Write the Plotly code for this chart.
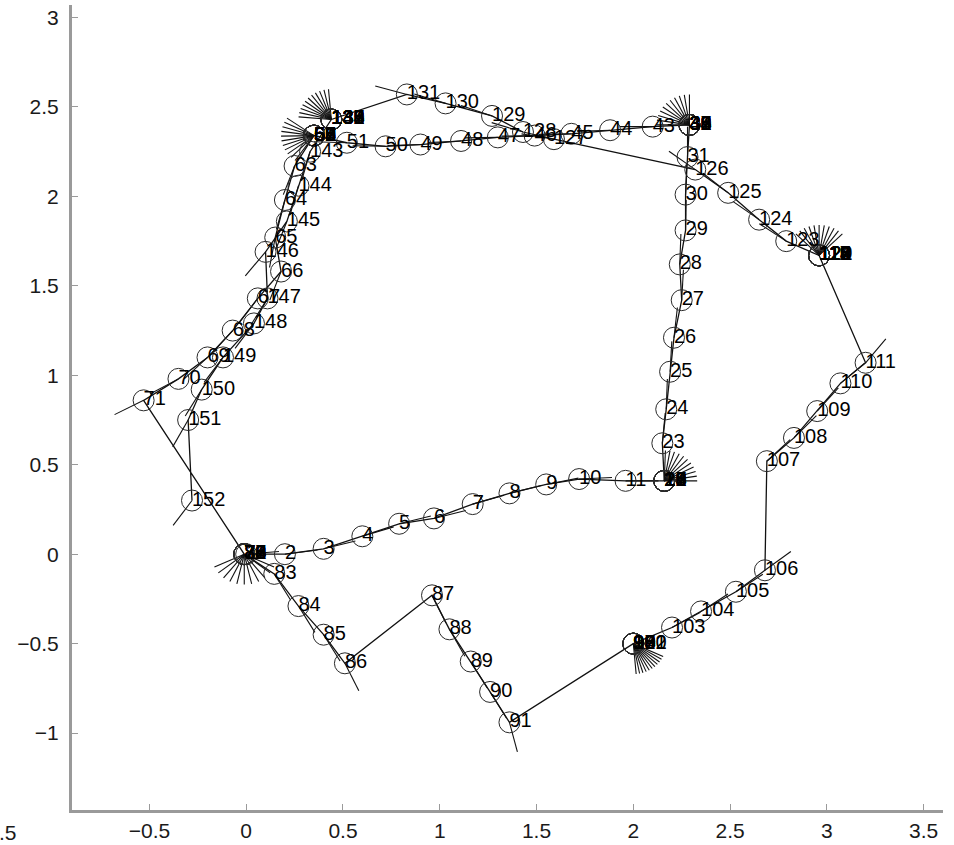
import math
import plotly.graph_objects as go

# ---- data: pose index, position (x, y) and heading (degrees) ----
pose_id = list(range(1, 153))

pose_x = [
    0.00, 0.20, 0.40, 0.60, 0.79, 0.97, 1.17, 1.36, 1.55, 1.72, 1.96,           # 1-11
    2.16, 2.16, 2.16, 2.16, 2.16, 2.16, 2.16, 2.16, 2.16, 2.16, 2.16,           # 12-22
    2.15, 2.17, 2.19, 2.21, 2.25, 2.24, 2.27, 2.27, 2.28,                       # 23-31
    2.29, 2.29, 2.29, 2.29, 2.29, 2.29, 2.29, 2.29, 2.29, 2.29, 2.29,           # 32-42
    2.10, 1.88, 1.68, 1.49, 1.30, 1.11, 0.90, 0.72, 0.52,                       # 43-51
    0.35, 0.35, 0.35, 0.35, 0.35, 0.35, 0.35, 0.35, 0.35, 0.35, 0.35,           # 52-62
    0.25, 0.20, 0.15, 0.18, 0.06, -0.07, -0.20, -0.35, -0.53,                   # 63-71
    -0.01, -0.01, -0.01, -0.01, -0.01, -0.01, -0.01, -0.01, -0.01, -0.01, -0.01,  # 72-82
    0.145, 0.27, 0.40, 0.51, 0.96, 1.05, 1.16, 1.26, 1.36,                      # 83-91
    2.00, 2.00, 2.00, 2.00, 2.00, 2.00, 2.00, 2.00, 2.00, 2.00, 2.00,           # 92-102
    2.20, 2.35, 2.53, 2.68, 2.69, 2.83, 2.95, 3.07, 3.20,                       # 103-111
    2.96, 2.96, 2.96, 2.96, 2.96, 2.96, 2.96, 2.96, 2.96, 2.96, 2.96,           # 112-122
    2.79, 2.65, 2.49, 2.32, 1.59, 1.43, 1.27, 1.03, 0.83,                       # 123-131
    0.44, 0.44, 0.44, 0.44, 0.44, 0.44, 0.44, 0.44, 0.44, 0.44, 0.44,           # 132-142
    0.33, 0.27, 0.21, 0.10, 0.11, 0.04, -0.12, -0.23, -0.30, -0.28,             # 143-152
]

pose_y = [
    0.00, 0.00, 0.03, 0.10, 0.17, 0.20, 0.28, 0.34, 0.39, 0.42, 0.41,
    0.41, 0.41, 0.41, 0.41, 0.41, 0.41, 0.41, 0.41, 0.41, 0.41, 0.41,
    0.62, 0.81, 1.02, 1.21, 1.42, 1.62, 1.81, 2.01, 2.22,
    2.40, 2.40, 2.40, 2.40, 2.40, 2.40, 2.40, 2.40, 2.40, 2.40, 2.40,
    2.39, 2.37, 2.35, 2.34, 2.33, 2.31, 2.29, 2.28, 2.30,
    2.34, 2.34, 2.34, 2.34, 2.34, 2.34, 2.34, 2.34, 2.34, 2.34, 2.34,
    2.17, 1.98, 1.77, 1.58, 1.43, 1.25, 1.10, 0.98, 0.86,
    0.00, 0.00, 0.00, 0.00, 0.00, 0.00, 0.00, 0.00, 0.00, 0.00, 0.00,
    -0.11, -0.29, -0.45, -0.61, -0.23, -0.42, -0.60, -0.77, -0.94,
    -0.50, -0.50, -0.50, -0.50, -0.50, -0.50, -0.50, -0.50, -0.50, -0.50, -0.50,
    -0.41, -0.32, -0.21, -0.09, 0.52, 0.65, 0.80, 0.955, 1.07,
    1.67, 1.67, 1.67, 1.67, 1.67, 1.67, 1.67, 1.67, 1.67, 1.67, 1.67,
    1.75, 1.87, 2.02, 2.15, 2.32, 2.36, 2.45, 2.52, 2.57,
    2.43, 2.43, 2.43, 2.43, 2.43, 2.43, 2.43, 2.43, 2.43, 2.43, 2.43,
    2.25, 2.06, 1.86, 1.69, 1.43, 1.29, 1.10, 0.92, 0.75, 0.30,
]

pose_theta = [
    5, 8, 15, 18, 15, 15, 17, 15, 12, 3, 0,
    0, 9, 18, 27, 36, 45, 54, 63, 72, 80, 88,
    85, 88, 87, 84, 87, 88, 89, 88, 90,
    90, 99, 108, 117, 126, 135, 144, 153, 162, 171, 180,
    180, 182, 181, 181, 181, 183, 182, 179, 178,
    145, 154, 163, 172, 181, 190, 199, 208, 217, 226, 235,
    250, 255, 260, 250, 235, 230, 225, 210, 208,
    205, 218, 231, 244, 257, 270, 283, 296, 309, 322, 335,
    300, 300, 300, 295, 295, 298, 300, 300, 284,
    275, 281, 287, 293, 299, 305, 311, 317, 323, 329, 335,
    30, 35, 35, 38, 45, 47, 50, 42, 52,
    45, 54, 63, 72, 81, 90, 99, 108, 117, 126, 135,
    145, 143, 140, 143, 170, 162, 160, 162, 164,
    95, 103, 111, 119, 127, 135, 143, 151, 159, 167, 175,
    255, 255, 250, 232, 240, 235, 235, 240, 242, 235,
]

x_ticks = [-0.5, 0, 0.5, 1, 1.5, 2, 2.5, 3, 3.5]
y_ticks = [-1, -0.5, 0, 0.5, 1, 1.5, 2, 2.5, 3]

# ---- style ----
HEAD_LEN = 0.17
FONT = "Liberation Sans, Arial, Helvetica, sans-serif"
AXIS_COLOR = "#9a9a9a"

def fmt(v):
    s = ("%g" % v)
    return s.replace("-", "\u2212")

# heading indicator segments derived from the pose data
hx, hy = [], []
for x, y, t in zip(pose_x, pose_y, pose_theta):
    a = math.radians(t)
    hx += [x, x + HEAD_LEN * math.cos(a), None]
    hy += [y, y + HEAD_LEN * math.sin(a), None]

fig = go.Figure()
fig.add_trace(go.Scatter(x=pose_x, y=pose_y, mode="lines",
                         line=dict(color="#111111", width=1.3),
                         hoverinfo="skip", showlegend=False))
fig.add_trace(go.Scatter(x=hx, y=hy, mode="lines",
                         line=dict(color="#111111", width=1.1),
                         hoverinfo="skip", showlegend=False))
fig.add_trace(go.Scatter(x=pose_x, y=pose_y, mode="markers",
                         marker=dict(symbol="circle-open", size=21,
                                     color="#2a2a2a", line=dict(width=1)),
                         hoverinfo="skip", showlegend=False))
fig.add_trace(go.Scatter(x=pose_x, y=pose_y, mode="text",
                         text=[str(i) for i in pose_id],
                         textposition="middle right",
                         textfont=dict(family=FONT, size=20, color="#000000"),
                         hoverinfo="skip", showlegend=False))

axis_common = dict(showgrid=False, zeroline=False, showline=True,
                   linecolor=AXIS_COLOR, linewidth=3, mirror=False,
                   ticks="inside", ticklen=6, tickwidth=1, tickcolor=AXIS_COLOR,
                   automargin=False,
                   tickfont=dict(family=FONT, size=21, color="#1a1a1a"))

fig.update_layout(
    width=954, height=845,
    margin=dict(l=72, r=11, t=5, b=35, autoexpand=False),
    paper_bgcolor="white", plot_bgcolor="white",
    xaxis=dict(range=[-0.9, 3.6], tickvals=x_ticks,
               ticktext=[fmt(v) for v in x_ticks], ticklabelstandoff=0,
               **axis_common),
    yaxis=dict(range=[-1.43, 3.07], tickvals=y_ticks,
               ticktext=[fmt(v) for v in y_ticks], ticklabelstandoff=6,
               **axis_common),
    annotations=[dict(text="\u22121.5", xref="paper", yref="paper",
                      x=-54 / 871, y=-22 / 805, xanchor="right", yanchor="middle",
                      showarrow=False,
                      font=dict(family=FONT, size=21, color="#1a1a1a"))],
)

fig.write_html("out.html",
               config={"displayModeBar": False},
               post_script="document.body.style.margin='0';"
                           "document.body.style.overflow='hidden';")
